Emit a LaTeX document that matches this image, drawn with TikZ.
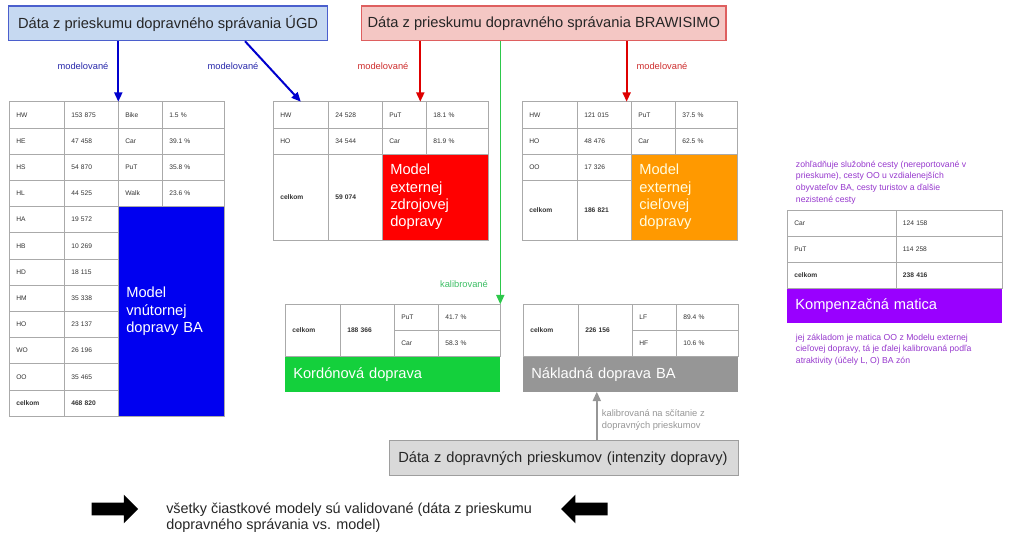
\documentclass[tikz,border=0pt]{standalone}
\usepackage{fontspec}
\setmainfont{Liberation Sans}
\usetikzlibrary{arrows.meta,shapes.arrows}

\definecolor{ugdfill}{RGB}{198,217,241}
\definecolor{ugdline}{RGB}{75,95,205}
\definecolor{brafill}{RGB}{244,199,196}
\definecolor{braline}{RGB}{222,95,95}
\definecolor{modblue}{RGB}{0,0,205}
\definecolor{modred}{RGB}{222,0,0}
\definecolor{kalgreen}{RGB}{45,200,75}
\definecolor{kalgray}{RGB}{150,150,150}
\definecolor{labblue}{RGB}{40,40,170}
\definecolor{labred}{RGB}{205,45,45}
\definecolor{labgreen}{RGB}{60,190,100}
\definecolor{tabline}{RGB}{170,170,170}
\definecolor{tabtext}{RGB}{50,50,50}
\definecolor{bandblue}{RGB}{0,0,240}
\definecolor{bandred}{RGB}{255,0,0}
\definecolor{bandorange}{RGB}{255,153,0}
\definecolor{bandgreen}{RGB}{20,208,60}
\definecolor{bandgray}{RGB}{150,150,150}
\definecolor{bandviolet}{RGB}{153,0,255}
\definecolor{notetext}{RGB}{150,55,205}
\definecolor{datfill}{RGB}{217,217,217}
\colorlet{datline}{black!38}
\colorlet{bigtext}{black!85}

\tikzset{
  cell/.style={draw=tabline, anchor=north west, outer sep=0pt, inner xsep=5.25pt,
    inner ysep=0pt, align=left, minimum height=19.65pt, text=tabtext,
    font=\fontsize{5}{6}\selectfont},
  colA/.style={cell, text width=30.75pt},
  colB/.style={cell, text width=30pt},
  colC/.style={cell, text width=22.5pt},
  colD/.style={cell, text width=36pt},
  kcolA/.style={cell, text width=71pt},
  kcolB/.style={cell, text width=69.25pt},
  total/.style={font=\fontsize{5}{6}\selectfont\bfseries},
  band/.style={draw=tabline, fill=#1, anchor=north west, outer sep=0pt, inner xsep=6pt,
    inner ysep=0pt, align=left, text=white, font=\fontsize{11}{13}\selectfont},
  srcbox/.style={draw=#1, line width=0.8pt, minimum height=26pt, text=bigtext,
    font=\fontsize{11}{13}\selectfont},
  lab/.style={inner sep=0pt, font=\fontsize{7}{8.8}\selectfont},
  note/.style={inner sep=0pt, anchor=west, align=left, text=notetext,
    font=\fontsize{6.5}{8.7}\selectfont},
  modarrow/.style={draw=#1, line width=1.5pt, -{Triangle[length=7pt, width=6pt]}},
  bigarrow/.style={single arrow, fill=black, draw=none, inner xsep=0pt, inner ysep=4.5pt,
    single arrow head extend=6pt, minimum height=35pt}
}

\begin{document}
\begin{tikzpicture}[x=0.75pt, y=-0.75pt]
  \useasboundingbox (0, 0) rectangle (1023, 547);

  % source boxes
  \draw (168.1, 23.35) node[srcbox=ugdline, fill=ugdfill, minimum width=239.1pt] (ugd)
    {Dáta z prieskumu dopravného správania ÚGD};
  \draw (543.85, 23.35) node[srcbox=braline, fill=brafill, minimum width=273.2pt] (bra)
    {Dáta z prieskumu dopravného správania BRAWISIMO};
  \draw (563.8, 458.2) node[srcbox=datline, fill=datfill, line width=0.6pt, minimum height=26.25pt,
    text width=248.25pt, inner xsep=6.75pt, align=left] (dat)
    {Dáta z dopravných prieskumov (intenzity dopravy)};

  % model vnutornej dopravy
  \draw (9.3, 101.7)       node[colA] (lhw)   {HW};
  \draw (lhw.north east)   node[colB] (lhw2)  {153 875};
  \draw (lhw2.north east)  node[colC] (lbike) {Bike};
  \draw (lbike.north east) node[colD] (lbike2) {1.5 \%};
  \draw (lhw.south west)   node[colA] (lhe)   {HE};
  \draw (lhe.north east)   node[colB] (lhe2)  {47 458};
  \draw (lhe2.north east)  node[colC] (lcar)  {Car};
  \draw (lcar.north east)  node[colD] (lcar2) {39.1 \%};
  \draw (lhe.south west)   node[colA] (lhs)   {HS};
  \draw (lhs.north east)   node[colB] (lhs2)  {54 870};
  \draw (lhs2.north east)  node[colC] (lput)  {PuT};
  \draw (lput.north east)  node[colD] (lput2) {35.8 \%};
  \draw (lhs.south west)   node[colA] (lhl)   {HL};
  \draw (lhl.north east)   node[colB] (lhl2)  {44 525};
  \draw (lhl2.north east)  node[colC] (lwalk) {Walk};
  \draw (lwalk.north east) node[colD] (lwalk2) {23.6 \%};
  \draw (lhl.south west)   node[colA] (lha)   {HA};
  \draw (lha.north east)   node[colB] (lha2)  {19 572};
  \draw (lha.south west)   node[colA] (lhb)   {HB};
  \draw (lhb.north east)   node[colB] (lhb2)  {10 269};
  \draw (lhb.south west)   node[colA] (lhd)   {HD};
  \draw (lhd.north east)   node[colB] (lhd2)  {18 115};
  \draw (lhd.south west)   node[colA] (lhm)   {HM};
  \draw (lhm.north east)   node[colB] (lhm2)  {35 338};
  \draw (lhm.south west)   node[colA] (lho)   {HO};
  \draw (lho.north east)   node[colB] (lho2)  {23 137};
  \draw (lho.south west)   node[colA] (lwo)   {WO};
  \draw (lwo.north east)   node[colB] (lwo2)  {26 196};
  \draw (lwo.south west)   node[colA] (loo)   {OO};
  \draw (loo.north east)   node[colB] (loo2)  {35 465};
  \draw (loo.south west)   node[colA, total] (lsum)  {celkom};
  \draw (lsum.north east)  node[colB, total] (lsum2) {468 820};
  \draw (lhl2.south east)  node[band=bandblue, text width=67.5pt, minimum height=157.2pt] (lband)
    {Model\\vnútornej\\dopravy BA};

  % model externej zdrojovej dopravy
  \draw (273.3, 101.7)     node[colA] (mhw)   {HW};
  \draw (mhw.north east)   node[colB] (mhw2)  {24 528};
  \draw (mhw2.north east)  node[colC] (mput)  {PuT};
  \draw (mput.north east)  node[colD] (mput2) {18.1 \%};
  \draw (mhw.south west)   node[colA] (mho)   {HO};
  \draw (mho.north east)   node[colB] (mho2)  {34 544};
  \draw (mho2.north east)  node[colC] (mcar)  {Car};
  \draw (mcar.north east)  node[colD] (mcar2) {81.9 \%};
  \draw (mho.south west)   node[colA, total, minimum height=64.4pt] (msum)  {celkom};
  \draw (msum.north east)  node[colB, total, minimum height=64.4pt] (msum2) {59 074};
  \draw (msum2.north east) node[band=bandred, text width=67.5pt, minimum height=64.4pt] (mband)
    {Model\\externej\\zdrojovej\\dopravy};

  % model externej cielovej dopravy
  \draw (522.3, 101.7)     node[colA] (rhw)   {HW};
  \draw (rhw.north east)   node[colB] (rhw2)  {121 015};
  \draw (rhw2.north east)  node[colC] (rput)  {PuT};
  \draw (rput.north east)  node[colD] (rput2) {37.5 \%};
  \draw (rhw.south west)   node[colA] (rho)   {HO};
  \draw (rho.north east)   node[colB] (rho2)  {48 476};
  \draw (rho2.north east)  node[colC] (rcar)  {Car};
  \draw (rcar.north east)  node[colD] (rcar2) {62.5 \%};
  \draw (rho.south west)   node[colA] (roo)   {OO};
  \draw (roo.north east)   node[colB] (roo2)  {17 326};
  \draw (roo.south west)   node[colA, total, minimum height=44.8pt] (rsum)  {celkom};
  \draw (rsum.north east)  node[colB, total, minimum height=44.8pt] (rsum2) {186 821};
  \draw (rcar.south west)  node[band=bandorange, text=white!88!yellow, text width=67.5pt,
    minimum height=64.45pt] (rband) {Model\\externej\\cieľovej\\dopravy};

  % kordonova doprava
  \draw (285.3, 304.3)     node[colA, total, minimum height=39.3pt] (ksum)  {celkom};
  \draw (ksum.north east)  node[colB, total, minimum height=39.3pt] (ksum2) {188 366};
  \draw (ksum2.north east) node[colC] (kput)  {PuT};
  \draw (kput.north east)  node[colD] (kput2) {41.7 \%};
  \draw (kput.south west)  node[colC] (kcar)  {Car};
  \draw (kcar.north east)  node[colD] (kcar2) {58.3 \%};
  \draw (ksum.south west)  node[band=bandgreen, draw=none, text width=149.25pt, minimum height=26.25pt] (kband)
    {Kordónová doprava};

  % nakladna doprava
  \draw (523.3, 304.3)     node[colA, total, minimum height=39.3pt] (nsum)  {celkom};
  \draw (nsum.north east)  node[colB, total, minimum height=39.3pt] (nsum2) {226 156};
  \draw (nsum2.north east) node[colC] (nlf)   {LF};
  \draw (nlf.north east)   node[colD] (nlf2)  {89.4 \%};
  \draw (nlf.south west)   node[colC] (nhf)   {HF};
  \draw (nhf.north east)   node[colD] (nhf2)  {10.6 \%};
  \draw (nsum.south west)  node[band=bandgray, draw=none, text width=149.25pt, minimum height=26.25pt] (nband)
    {Nákladná doprava BA};

  % kompenzacna matica
  \draw (787.3, 210)       node[kcolA] (ccar)  {Car};
  \draw (ccar.north east)  node[kcolB] (ccar2) {124 158};
  \draw (ccar.south west)  node[kcolA] (cput)  {PuT};
  \draw (cput.north east)  node[kcolB] (cput2) {114 258};
  \draw (cput.south west)  node[kcolA, total] (csum)  {celkom};
  \draw (csum.north east)  node[kcolB, total] (csum2) {238 416};
  \draw (csum.south west)  node[band=bandviolet, draw=none, text width=149.25pt, minimum height=26pt] (cband)
    {Kompenzačná matica};
  \draw (795.7, 182.5) node[note] (cnote1)
    {zohľadňuje služobné cesty (nereportované v\\prieskume), cesty OO u vzdialenejších\\obyvateľov BA, cesty turistov a ďalšie\\nezistené cesty};
  \draw (795.7, 349.5) node[note] (cnote2)
    {jej základom je matica OO z Modelu externej\\cieľovej dopravy, tá je ďalej kalibrovaná podľa\\atraktivity (účely L, O) BA zón};

  % connectors
  \coordinate (r1) at ([xshift=-4.5pt]mput.north east);
  \coordinate (r2) at ([xshift=-3.5pt]rhw2.north east);
  \coordinate (g1) at ([xshift=-25.5pt]nband.south);
  \draw[modarrow=modblue] (ugd.south -| lbike.north west) -- (lbike.north west);
  \draw[modarrow=modblue] ([xshift=57.7pt]ugd.south) -- (mhw.north);
  \draw[modarrow=modred] (bra.south -| r1) -- (r1);
  \draw[modarrow=modred] (bra.south -| r2) -- (r2);
  \draw[modarrow=kalgreen, line width=1.1pt] (bra.south -| kput2.north east) -- (kput2.north east);
  \draw[modarrow=kalgray, line width=1.3pt] (dat.north -| g1) -- (g1);

  % connector labels
  \draw (83, 66.5)  node[lab, text=labblue] (lab1) {modelované};
  \draw (233, 66.5) node[lab, text=labblue] (lab2) {modelované};
  \draw (383, 66.5) node[lab, text=labred]  (lab3) {modelované};
  \draw (662, 66.5) node[lab, text=labred]  (lab4) {modelované};
  \draw (464, 284.3) node[lab, text=labgreen] (lab5) {kalibrované};
  \draw (601.7, 420) node[lab, text=kalgray, anchor=west, align=left] (lab6)
    {kalibrovaná na sčítanie z\\dopravných prieskumov};

  % validation
  \draw (111.7, 509) node[bigarrow] (arrR) {};
  \draw (587.5, 509) node[bigarrow, shape border rotate=180] (arrL) {};
  \draw (166, 517.5) node[inner sep=0pt, anchor=west, align=left, text=bigtext,
    font=\fontsize{10.8}{12}\selectfont] (valid)
    {všetky čiastkové modely sú validované (dáta z prieskumu\\dopravného správania vs. model)};
\end{tikzpicture}
\end{document}
